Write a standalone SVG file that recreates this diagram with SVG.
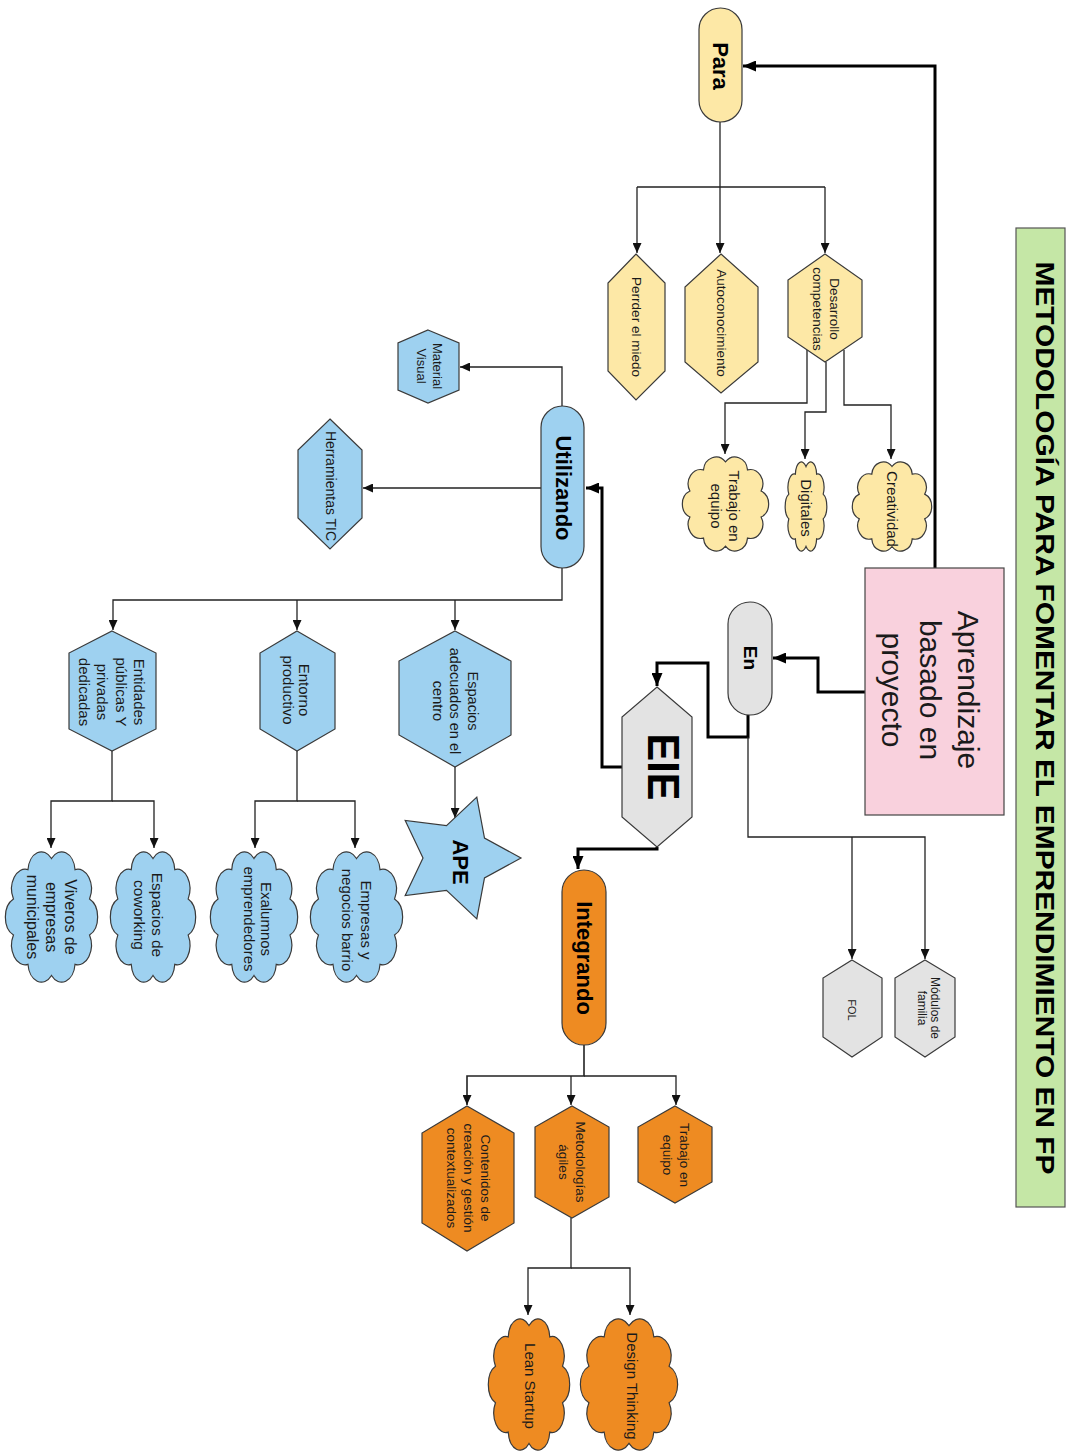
<svg xmlns="http://www.w3.org/2000/svg" width="1073" height="1455" viewBox="0 0 1073 1455">
<style>
.t{font-family:"Liberation Sans",Arial,sans-serif;fill:#1a1a1a;text-anchor:middle;dominant-baseline:central}
.bd{font-weight:bold;fill:#000}
.y{fill:#fde8a6;stroke:#3a3a3a;stroke-width:1.2}
.b{fill:#9ed1f0;stroke:#3a3a3a;stroke-width:1.2}
.o{fill:#ee8b22;stroke:#3a3a3a;stroke-width:1.2}
.g{fill:#e3e3e3;stroke:#3a3a3a;stroke-width:1.2}
.c{fill:none;stroke:#222;stroke-width:1.3}
.k{fill:none;stroke:#000;stroke-width:3}
</style>
<defs>
<marker id="a" markerWidth="10" markerHeight="9" refX="10" refY="4.5" orient="auto" markerUnits="userSpaceOnUse"><path d="M0,0 L10,4.5 L0,9 z" fill="#111"/></marker>
<marker id="A" markerWidth="13" markerHeight="11" refX="13" refY="5.5" orient="auto" markerUnits="userSpaceOnUse"><path d="M0,0 L13,5.5 L0,11 z" fill="#000"/></marker>
<path id="cl" vector-effect="non-scaling-stroke" d="M50,7 A14.5,14.5 0 0 1 75.3,15.2 A14.5,14.5 0 0 1 90.9,36.7 A14.5,14.5 0 0 1 90.9,63.3 A14.5,14.5 0 0 1 75.3,84.8 A14.5,14.5 0 0 1 50,93 A14.5,14.5 0 0 1 24.7,84.8 A14.5,14.5 0 0 1 9.1,63.3 A14.5,14.5 0 0 1 9.1,36.7 A14.5,14.5 0 0 1 24.7,15.2 A14.5,14.5 0 0 1 50,7 Z"/>
</defs>
<rect width="1073" height="1455" fill="#fff"/>

<g id="connectors">
<path class="k" d="M935,568 V66 H743" marker-end="url(#A)"/>
<path class="c" d="M720,122 V253" marker-end="url(#a)"/>
<path class="c" d="M637,187 H825 M637,187 V253" marker-end="url(#a)"/>
<path class="c" d="M825,187 V253" marker-end="url(#a)"/>
<path class="c" d="M807,350 V403 H725 V454" marker-end="url(#a)"/>
<path class="c" d="M826,362 V412 H805 V459" marker-end="url(#a)"/>
<path class="c" d="M844,350 V405 H891 V459" marker-end="url(#a)"/>
<path class="k" d="M622,767 H602 V488 H586" marker-end="url(#A)"/>
<path class="c" d="M562,406 V367 H460" marker-end="url(#a)"/>
<path class="c" d="M541,488 H363" marker-end="url(#a)"/>
<path class="c" d="M562,568 V600 H113 V630" marker-end="url(#a)"/>
<path class="c" d="M297,600 V630" marker-end="url(#a)"/>
<path class="c" d="M455,600 V630" marker-end="url(#a)"/>
<path class="c" d="M112,751 V801 H51 V848" marker-end="url(#a)"/>
<path class="c" d="M112,801 H154 V848" marker-end="url(#a)"/>
<path class="c" d="M297,751 V801 H255 V848" marker-end="url(#a)"/>
<path class="c" d="M297,801 H355 V848" marker-end="url(#a)"/>
<path class="c" d="M455,767 V818" marker-end="url(#a)"/>
<path class="k" d="M865,692 H818 V658 H773" marker-end="url(#A)"/>
<path class="k" d="M748,715 V737 H708 V663 H657 V686" marker-end="url(#A)"/>
<path class="c" d="M748,737 V837 H925 V959" marker-end="url(#a)"/>
<path class="c" d="M852,837 V959" marker-end="url(#a)"/>
<path class="k" d="M657,847 V849 H578 V869" marker-end="url(#A)"/>
<path class="c" d="M584,1045 V1076 H467 V1105" marker-end="url(#a)" style="stroke-width:1.6"/>
<path class="c" d="M571,1076 V1105" marker-end="url(#a)"/>
<path class="c" d="M584,1076 H676 V1105" marker-end="url(#a)"/>
<path class="c" d="M571,1218 V1268 H528 V1315" marker-end="url(#a)"/>
<path class="c" d="M571,1268 H630 V1315" marker-end="url(#a)"/>
</g>

<g id="title">
<rect x="1016" y="228" width="49" height="979" fill="#c5e7a6" stroke="#555" stroke-width="1.2"/>
<text class="t bd" font-size="26" textLength="913" lengthAdjust="spacingAndGlyphs" transform="translate(1045,718) rotate(90)">METODOLOGÍA PARA FOMENTAR EL EMPRENDIMIENTO EN FP</text>
</g>

<g id="aprendizaje">
<rect x="865" y="568" width="139" height="247" fill="#f9d1dd" stroke="#444" stroke-width="1.2"/>
<text class="t" font-size="30" transform="translate(931,690) rotate(90)"><tspan x="0" y="-38">Aprendizaje</tspan><tspan x="0" y="0">basado en</tspan><tspan x="0" y="38">proyecto</tspan></text>
</g>

<g id="para">
<rect x="699" y="8" width="43" height="114" rx="21.5" class="y"/>
<text class="t bd" font-size="22" transform="translate(720,66) rotate(90)">Para</text>
</g>

<g id="perrder">
<polygon class="y" points="636,254 665,283 665,371 636,400 608,371 608,283"/>
<text class="t" font-size="13.5" transform="translate(636,327) rotate(90)">Perrder el miedo</text>
</g>
<g id="autoconocimiento">
<polygon class="y" points="721,254 758,287 758,362 721,393 685,362 685,287"/>
<text class="t" font-size="13.5" transform="translate(721,323) rotate(90)">Autoconocimiento</text>
</g>
<g id="desarrollo">
<polygon class="y" points="825,254 862,280 862,337 825,362 788,337 788,280"/>
<text class="t" font-size="13.5" transform="translate(826.5,309) rotate(90)"><tspan x="0" y="-8.5">Desarrollo</tspan><tspan x="0" y="8.5">competencias</tspan></text>
</g>

<g id="trabajo1">
<use href="#cl" class="y" transform="translate(682,455) scale(0.87,0.98)"/>
<text class="t" font-size="15" transform="translate(726,506) rotate(90)"><tspan x="0" y="-9">Trabajo en</tspan><tspan x="0" y="9">equipo</tspan></text>
</g>
<g id="digitales">
<use href="#cl" class="y" transform="translate(785,460) scale(0.42,0.93)"/>
<text class="t" font-size="15" transform="translate(806,508) rotate(90)">Digitales</text>
</g>
<g id="creatividad">
<use href="#cl" class="y" transform="translate(852,460) scale(0.80,0.93)"/>
<text class="t" font-size="15" transform="translate(892,509) rotate(90)">Creatividad</text>
</g>

<g id="utilizando">
<rect x="541" y="406" width="43" height="162" rx="21.5" class="b"/>
<text class="t bd" font-size="22" transform="translate(563,488) rotate(90)">Utilizando</text>
</g>
<g id="material">
<polygon class="b" points="428,330 459,343 459,390 428,403 398,390 398,343"/>
<text class="t" font-size="13" transform="translate(430,366) rotate(90)"><tspan x="0" y="-8">Material</tspan><tspan x="0" y="8">Visual</tspan></text>
</g>
<g id="herramientas">
<polygon class="b" points="330,419 362,450 362,518 330,549 298,518 298,450"/>
<text class="t" font-size="14" transform="translate(331,486) rotate(90)">Herramientas TIC</text>
</g>

<g id="espacios">
<polygon class="b" points="455,631 511,661 511,735 455,767 399,735 399,661"/>
<text class="t" font-size="14.5" transform="translate(455,701) rotate(90)"><tspan x="0" y="-17.5">Espacios</tspan><tspan x="0" y="0">adecuados en el</tspan><tspan x="0" y="17.5">centro</tspan></text>
</g>
<g id="entorno">
<polygon class="b" points="297,631 335,653 335,729 297,751 260,729 260,653"/>
<text class="t" font-size="15" transform="translate(297,690) rotate(90)"><tspan x="0" y="-8">Entorno</tspan><tspan x="0" y="8">productivo</tspan></text>
</g>
<g id="entidades">
<polygon class="b" points="112,631 156,653 156,729 112,751 69,729 69,653"/>
<text class="t" font-size="15" transform="translate(112.5,692) rotate(90)"><tspan x="0" y="-27.75">Entidades</tspan><tspan x="0" y="-9.25">públicas Y</tspan><tspan x="0" y="9.25">privadas</tspan><tspan x="0" y="27.75">dedicadas</tspan></text>
</g>

<g id="ape">
<polygon class="b" points="521,858 484.5,878 476.8,918.9 446.5,890.3 405.2,895.6 423,858 405.2,820.4 446.5,825.7 476.8,797.1 484.5,838"/>
<text class="t bd" font-size="22" transform="translate(460,862) rotate(90)">APE</text>
</g>

<g id="viveros">
<use href="#cl" class="b" transform="translate(5,849) scale(0.93,1.36)"/>
<text class="t" font-size="16" transform="translate(52,917) rotate(90)"><tspan x="0" y="-19">Viveros de</tspan><tspan x="0" y="0">empresas</tspan><tspan x="0" y="19">municipales</tspan></text>
</g>
<g id="coworking">
<use href="#cl" class="b" transform="translate(110,849) scale(0.86,1.36)"/>
<text class="t" font-size="15.5" transform="translate(149,915) rotate(90)"><tspan x="0" y="-9">Espacios de</tspan><tspan x="0" y="9">coworking</tspan></text>
</g>
<g id="exalumnos">
<use href="#cl" class="b" transform="translate(210,849) scale(0.88,1.36)"/>
<text class="t" font-size="15" transform="translate(258,919) rotate(90)"><tspan x="0" y="-8.5">Exalumnos</tspan><tspan x="0" y="8.5">emprendedores</tspan></text>
</g>
<g id="empresas">
<use href="#cl" class="b" transform="translate(310,849) scale(0.93,1.36)"/>
<text class="t" font-size="15" transform="translate(357,920) rotate(90)"><tspan x="0" y="-9.5">Empresas y</tspan><tspan x="0" y="9.5">negocios barrio</tspan></text>
</g>

<g id="en">
<rect x="728" y="602" width="44" height="113" rx="22" class="g"/>
<text class="t bd" font-size="19" transform="translate(750,658) rotate(90)">En</text>
</g>
<g id="eie">
<polygon class="g" points="657,687 692,717 692,817 657,847 622,817 622,717"/>
<text class="t bd" font-size="44" textLength="67" lengthAdjust="spacingAndGlyphs" transform="translate(663,767) rotate(90)">EIE</text>
</g>
<g id="fol">
<polygon class="g" points="852,960 882,978 882,1037 852,1057 823,1037 823,978"/>
<text class="t" font-size="11" transform="translate(852,1010) rotate(90)">FOL</text>
</g>
<g id="modulos">
<polygon class="g" points="925,960 955,978 955,1037 925,1057 895,1037 895,978"/>
<text class="t" font-size="12" transform="translate(928,1008) rotate(90)"><tspan x="0" y="-6.5">Módulos de</tspan><tspan x="0" y="6.5">familia</tspan></text>
</g>

<g id="integrando">
<rect x="562" y="870" width="44" height="175" rx="22" class="o"/>
<text class="t bd" font-size="22" transform="translate(584,958) rotate(90)">Integrando</text>
</g>
<g id="contenidos">
<polygon class="o" points="467,1106 514,1133 514,1223 467,1251 422,1223 422,1133"/>
<text class="t" font-size="13.5" transform="translate(469,1178) rotate(90)"><tspan x="0" y="-17">Contenidos de</tspan><tspan x="0" y="0">creación y gestión</tspan><tspan x="0" y="17">contextualizados</tspan></text>
</g>
<g id="metodologias">
<polygon class="o" points="572,1106 609,1127 609,1197 572,1218 535,1197 535,1127"/>
<text class="t" font-size="13.5" transform="translate(572,1162) rotate(90)"><tspan x="0" y="-8.5">Metodologías</tspan><tspan x="0" y="8.5">ágiles</tspan></text>
</g>
<g id="trabajo2">
<polygon class="o" points="675,1106 712,1127 712,1182 675,1203 638,1182 638,1127"/>
<text class="t" font-size="13.5" transform="translate(676,1155) rotate(90)"><tspan x="0" y="-8.5">Trabajo en</tspan><tspan x="0" y="8.5">equipo</tspan></text>
</g>
<g id="lean">
<use href="#cl" class="o" transform="translate(488,1316) scale(0.82,1.37)"/>
<text class="t" font-size="15" transform="translate(530,1386) rotate(90)">Lean Startup</text>
</g>
<g id="design">
<use href="#cl" class="o" transform="translate(580,1316) scale(0.98,1.37)"/>
<text class="t" font-size="15" transform="translate(632,1386) rotate(90)">Design Thinking</text>
</g>
</svg>
